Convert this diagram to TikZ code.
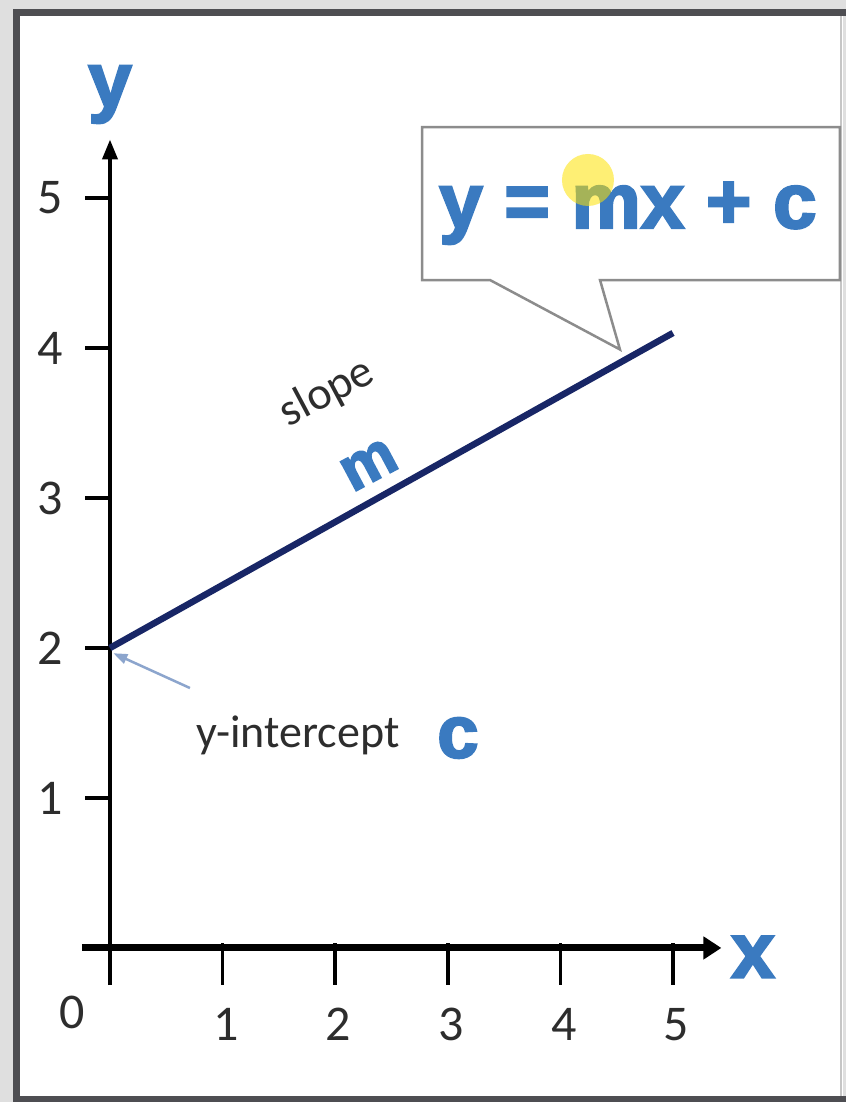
\documentclass[tikz,border=0pt]{standalone}
\usepackage{fontspec}
\setmainfont{Carlito}
\newfontfamily\heavyfont[FakeBold=3]{Liberation Sans Bold}
\usetikzlibrary{arrows.meta}
\definecolor{eqblue}{RGB}{58,122,192}
\definecolor{linenavy}{RGB}{24,38,102}
\definecolor{framegray}{RGB}{78,78,82}
\definecolor{pointblue}{RGB}{140,165,205}
\definecolor{labelgray}{RGB}{45,45,45}
\tikzset{
  yaxisline/.style={line width=4pt,-{Triangle[length=20pt,width=15pt]}},
  xaxisline/.style={line width=7pt,-{Triangle[length=18pt,width=22pt]}},
  tickmark/.style={line width=3.5pt},
  ticklabel/.style={text=labelgray,font=\fontsize{50}{50}\selectfont},
  textlabel/.style={text=labelgray,font=\fontsize{46}{46}\selectfont},
  bigletter/.style={text=eqblue,font=\heavyfont\fontsize{78}{78}\selectfont},
  callout/.style={draw=gray!90,line width=2.5pt,fill=white},
  pointerline/.style={draw=pointblue,line width=2.5pt,-{Triangle[length=14pt,width=10pt]}}
}
\begin{document}
\begin{tikzpicture}[x=112.6pt,y=150pt]
  % frame
  \useasboundingbox (-0.977,-1.027) rectangle (6.536,6.32);
  \fill[gray!25] (-0.977,-1.027) rectangle (6.536,6.32);
  \fill[white] (-0.83,-1.01) rectangle (6.51,6.237);
  \draw[gray!45, line width=1.5pt] (6.49,6.237) -- (6.49,-1.01);
  \draw[framegray, line width=7pt] (6.7,6.237) -- (-0.83,6.237) -- (-0.83,-1.013) -- (6.7,-1.013);

  % axes
  \coordinate (o) at (0,0);
  \draw[yaxisline] (0,-0.247) -- (0,5.39) coordinate (ytip);
  \draw[xaxisline] (-0.25,0) -- (5.43,0) coordinate (xtip);
  \foreach \k in {1,...,5} {
    \draw[tickmark] (-0.222,\k) -- (0,\k);
    \node[ticklabel] (ylab\k) at (-0.533,\k) {\k};
    \draw[tickmark] (\k,0.03) -- (\k,-0.247);
    \node[ticklabel] (xlab\k) at (\k+0.03,-0.51) {\k};
  }
  \node[ticklabel] (zero) at (-0.337,-0.43) {0};
  \node[bigletter] (ylabel) at (0,5.69) {y};
  \node[bigletter] (xlabel) at (5.71,-0.06) {x};

  % the line
  \coordinate (c0) at (0,2);
  \coordinate (c5) at (5,4.1);
  \draw[linenavy, line width=6.5pt] (c0) -- (c5);
  \node[textlabel, rotate=28, inner sep=0pt] (slope) at (1.93,3.70) {slope};
  \node[bigletter, font=\heavyfont\fontsize{62}{62}\selectfont, rotate=28, inner sep=0pt] (mlab) at (2.30,3.22) {m};

  % intercept
  \node[textlabel] (yint) at (1.67,1.42) {y-intercept};
  \node[bigletter, font=\heavyfont\fontsize{74}{74}\selectfont] (clab) at (3.09,1.40) {c};
  \coordinate (ytail) at (0.71,1.733);
  \draw[pointerline] (ytail) -- ([shift={(0.03,-0.035)}]c0);

  % callout
  \coordinate (tip) at (4.529,3.99);
  \draw[callout] (2.771,4.453) -- (2.771,5.473) -- (6.483,5.473) -- (6.483,4.453)
    -- (4.352,4.453) -- (tip) -- (3.375,4.453) -- cycle;
  \node[bigletter, anchor=base] (eqn) at (4.6,4.8) {y = mx + c};
  \fill[yellow!85!orange, opacity=0.55] (4.245,5.12) circle[radius=26pt];
\end{tikzpicture}
\end{document}
